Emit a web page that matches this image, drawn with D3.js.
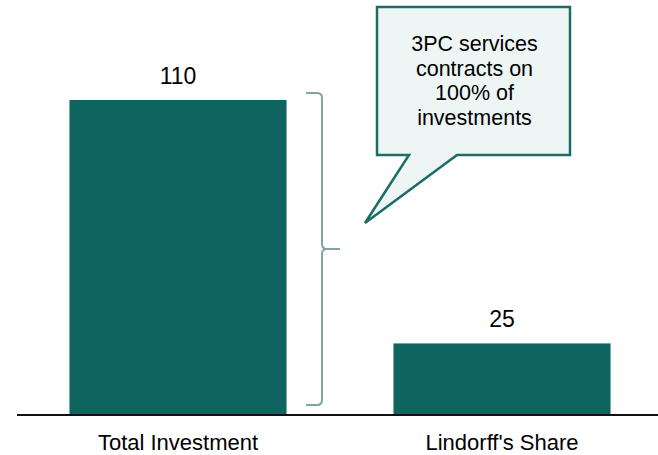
<!DOCTYPE html>
<html>
<head>
<meta charset="utf-8">
<script src="https://cdn.jsdelivr.net/npm/d3@7"></script>
<style>
  html, body { margin: 0; padding: 0; background: #fff; }
  svg { display: block; font-family: "Liberation Sans", Arial, sans-serif; }
</style>
</head>
<body>
<svg id="chart" width="658" height="455"></svg>
<script>
const categories = ["Total Investment", "Lindorff's Share"];
const values = [110, 25];
const calloutLines = ["3PC services", "contracts on", "100% of", "investments"];

const svg = d3.select("#chart");
const baseY = 415;

const x = d3.scaleBand()
  .domain(categories)
  .range([16, 664])
  .paddingInner(0.33)
  .paddingOuter(0.165);

const y = d3.scaleLinear()
  .domain([0, 110])
  .range([baseY, 100]);

const barColor = "#106460";

// bars
svg.selectAll("rect.bar")
  .data(values)
  .join("rect")
  .attr("class", "bar")
  .attr("x", (d, i) => x(categories[i]))
  .attr("y", d => y(d))
  .attr("width", x.bandwidth())
  .attr("height", d => baseY - y(d))
  .attr("fill", barColor);

// value labels
svg.selectAll("text.val")
  .data(values)
  .join("text")
  .attr("class", "val")
  .attr("x", (d, i) => x(categories[i]) + x.bandwidth() / 2)
  .attr("y", d => y(d) - 16)
  .attr("text-anchor", "middle")
  .attr("font-size", 23)
  .attr("fill", "#000")
  .text(d => d);

// category axis
const axis = d3.axisBottom(x).tickSize(0).tickPadding(19);
const gAxis = svg.append("g")
  .attr("transform", `translate(0,${baseY})`)
  .call(axis);
gAxis.select(".domain").attr("stroke", "#111").attr("stroke-width", 2).attr("d", "M17,0H658");
gAxis.selectAll(".tick text")
  .attr("font-size", 22)
  .attr("fill", "#000")
  .attr("font-family", "Liberation Sans, Arial, sans-serif");

// brace spanning the full investment bar
const braceX = 322;
const braceTop = y(values[0]) - 7;
const braceBot = baseY - 10;
const braceMid = (braceTop + braceBot) / 2;
const br = 5;
const bracePath = d3.path();
bracePath.moveTo(braceX - 16, braceTop);
bracePath.lineTo(braceX - br, braceTop);
bracePath.quadraticCurveTo(braceX, braceTop, braceX, braceTop + br);
bracePath.lineTo(braceX, braceMid - br);
bracePath.quadraticCurveTo(braceX, braceMid, braceX + br, braceMid);
bracePath.lineTo(braceX + 18, braceMid);
bracePath.moveTo(braceX + br, braceMid);
bracePath.quadraticCurveTo(braceX, braceMid, braceX, braceMid + br);
bracePath.lineTo(braceX, braceBot - br);
bracePath.quadraticCurveTo(braceX, braceBot, braceX - br, braceBot);
bracePath.lineTo(braceX - 16, braceBot);
svg.append("path")
  .attr("d", bracePath.toString())
  .attr("fill", "none")
  .attr("stroke", "#7fa6a2")
  .attr("stroke-width", 2);

// speech-bubble callout
const bx0 = 377, bx1 = 570, by0 = 7, by1 = 155;
const bubble = d3.path();
bubble.moveTo(bx0, by0);
bubble.lineTo(bx1, by0);
bubble.lineTo(bx1, by1);
bubble.lineTo(457, by1);
bubble.lineTo(365, 223);
bubble.lineTo(409, by1);
bubble.lineTo(bx0, by1);
bubble.closePath();
svg.append("path")
  .attr("d", bubble.toString())
  .attr("fill", "#eef6f5")
  .attr("stroke", "#1b6d67")
  .attr("stroke-width", 2.5)
  .attr("stroke-linejoin", "miter");

svg.append("g")
  .selectAll("text")
  .data(calloutLines)
  .join("text")
  .attr("x", (bx0 + bx1) / 2 + 1)
  .attr("y", (d, i) => 51 + i * 24.5)
  .attr("text-anchor", "middle")
  .attr("font-size", 21.5)
  .attr("fill", "#000")
  .text(d => d);
</script>
</body>
</html>
